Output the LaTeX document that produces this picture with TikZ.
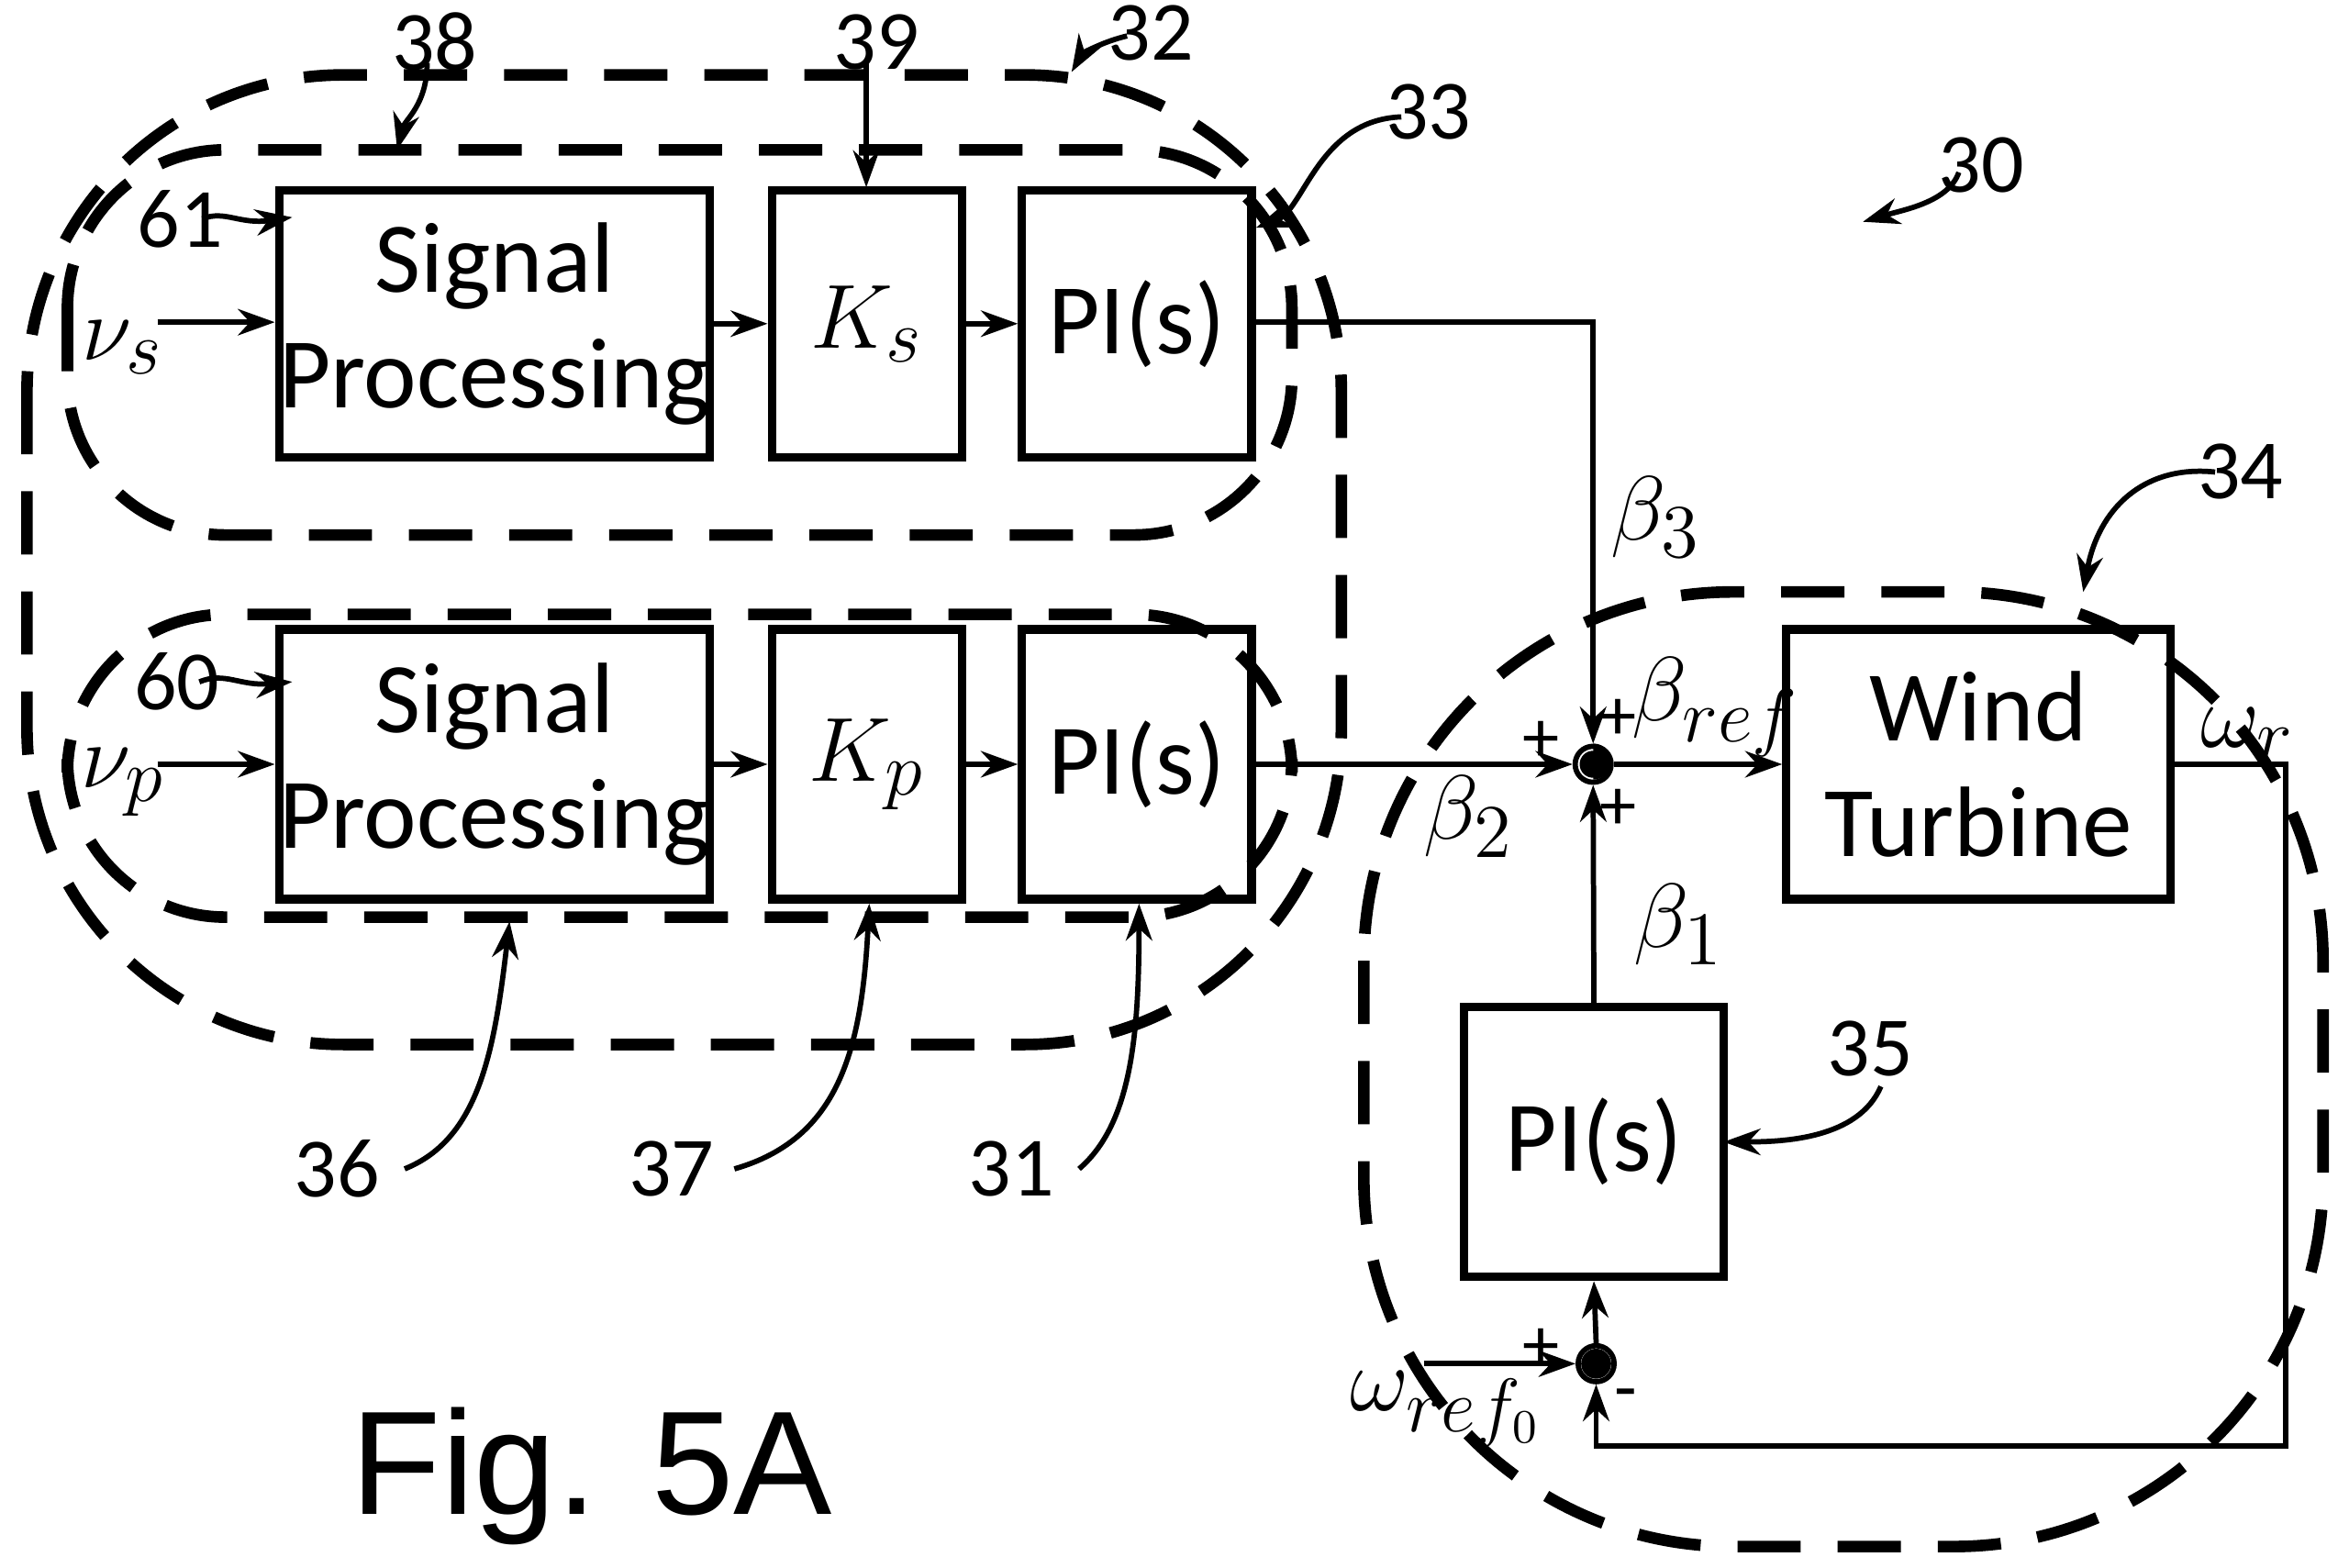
\documentclass[tikz,border=0pt]{standalone}
\usepackage{fontspec}
\setmainfont{Carlito}
\usetikzlibrary{arrows.meta}
\begin{document}
\begin{tikzpicture}[x=0.01cm,y=-0.01cm,
 blk/.style={draw,line width=1.6pt,minimum width=0,inner sep=0},
 dsh/.style={draw,line width=2.2pt,dash pattern=on 12pt off 7pt},
 ln/.style={line width=1pt},
 ar/.style={ln,-{Stealth[length=7pt,width=5pt]}},
 lab/.style={font=\fontsize{14}{14}\selectfont},
 txt/.style={font=\fontsize{19}{22}\selectfont,align=center}]
\useasboundingbox (0,0) rectangle (1560,1046);
% dashed groups
\draw[dsh,rounded corners=60] (18,50) rectangle (895,697);
\draw[dsh,rounded corners=30] (45,100) rectangle (862,357);
\draw[dsh,rounded corners=30] (45,410) rectangle (862,612);
\draw[dsh,rounded corners=70] (910,395) rectangle (1550,1032);
% blocks
\node[blk,minimum width=2.7cm,minimum height=1.78cm,txt] (sp1) at (330,216) {Signal\\Processing};
\node[blk,minimum width=1.27cm,minimum height=1.78cm,txt] (ks) at (578.5,216) {$K_s$};
\node[blk,minimum width=1.53cm,minimum height=1.78cm,txt] (pi1) at (758.5,216) {PI(s)};
\node[blk,minimum width=2.7cm,minimum height=1.8cm,txt] (sp2) at (330,510) {Signal\\Processing};
\node[blk,minimum width=1.27cm,minimum height=1.8cm,txt] (kp) at (578.5,510) {$K_p$};
\node[blk,minimum width=1.53cm,minimum height=1.8cm,txt] (pi2) at (758.5,510) {PI(s)};
\node[blk,minimum width=2.56cm,minimum height=1.8cm,txt] (wt) at (1320,510) {Wind\\Turbine};
\node[blk,minimum width=1.73cm,minimum height=1.8cm,txt] (pi3) at (1063.5,762) {PI(s)};
% sums
\node[draw,circle,line width=1pt,minimum size=0.24cm,inner sep=0] (s1) at (1063,510) {};
\fill (s1.north) arc (90:-90:0.12cm) -- cycle;
\fill (1063,510) circle (0.09cm);
\node[draw,circle,line width=1pt,minimum size=0.24cm,inner sep=0] (s2) at (1065,910) {};
\fill (1065,910) circle (0.1cm);
% inputs
\coordinate (vs) at (105,215); \coordinate (vp) at (105,510);
\node[txt] at (82,232) {$\nu_s$};
\node[txt] at (82,522) {$\nu_p$};
\draw[ar] (vs) -- (sp1.west|-vs);
\draw[ar] (vp) -- (sp2.west|-vp);
\draw[ar] (sp1) -- (ks); \draw[ar] (ks) -- (pi1);
\draw[ar] (sp2) -- (kp); \draw[ar] (kp) -- (pi2);
\draw[ar] (pi1.east|-0,215) -| (s1.north);
\draw[ar] (pi2.east|-0,510) -- (s1.west);
\draw[ar] (pi3.north) -- (s1.south);
\draw[ar] (s1.east) -- (wt.west);
\coordinate (c1) at (1525,510); \coordinate (c2) at (1525,965);
\draw[ar] (wt.east|-0,510) -- (c1) -- (c2) -| (s2.south);
\draw[ar] (s2.north) -- (pi3.south);
\coordinate (wr0) at (950,910);
\draw[ar] (wr0) -- (s2.west);
% signal labels
\node[txt] at (1105,345) {$\beta_3$};
\node[txt] at (1145,472) {$\beta_{ref}$};
\node[txt] at (980,545) {$\beta_2$};
\node[txt] at (1120,617) {$\beta_1$};
\node[txt] at (1500,490) {$\omega_r$};
\node[txt] at (965,940) {$\omega_{ref_0}$};
\node[lab] at (1080,480) {+}; \node[lab] at (1028,495) {+};
\node[lab] at (1080,540) {+}; \node[lab] at (1028,900) {+};
\node[lab] at (1085,935) {-};
% reference numerals
\node[lab,font=\fontsize{16}{16}\selectfont] (n38) at (290,28) {38};
\draw[ar] (285,42) .. controls (285,70) and (270,80) .. (265,100);
\node[lab,font=\fontsize{16}{16}\selectfont] (n39) at (585,28) {39};
\draw[ar] (578,42) -- (578,125);
\node[lab,font=\fontsize{16}{16}\selectfont] (n32) at (768,22) {32};
\draw[ar] (752,24) .. controls (735,28) and (722,36) .. (715,48);
\node[lab,font=\fontsize{16}{16}\selectfont] (n33) at (953,75) {33};
\draw[ar] (935,78) .. controls (880,80) and (870,140) .. (838,152);
\node[lab,font=\fontsize{16}{16}\selectfont] (n30) at (1322,110) {30};
\draw[ar] (1307,115) .. controls (1300,135) and (1270,140) .. (1243,148);
\node[lab,font=\fontsize{16}{16}\selectfont] (n34) at (1495,315) {34};
\draw[ar] (1478,315) .. controls (1430,310) and (1400,340) .. (1390,395);
\node[lab,font=\fontsize{16}{16}\selectfont] (n61) at (120,146) {61};
\draw[ar] (135,146) .. controls (150,140) and (160,150) .. (195,145);
\node[lab,font=\fontsize{16}{16}\selectfont] (n60) at (118,455) {60};
\draw[ar] (133,455) .. controls (150,448) and (160,458) .. (195,455);
\node[lab,font=\fontsize{16}{16}\selectfont] (n36) at (225,780) {36};
\draw[ar] (270,780) .. controls (320,760) and (330,700) .. (340,615);
\node[lab,font=\fontsize{16}{16}\selectfont] (n37) at (448,780) {37};
\draw[ar] (490,780) .. controls (560,760) and (575,700) .. (580,603);
\node[lab,font=\fontsize{16}{16}\selectfont] (n31) at (675,780) {31};
\draw[ar] (720,780) .. controls (755,750) and (760,690) .. (760,603);
\node[lab,font=\fontsize{16}{16}\selectfont] (n35) at (1248,700) {35};
\draw[ar] (1255,725) .. controls (1240,760) and (1190,762) .. (1150,762);
\node[font=\fontsize{28}{28}\selectfont\fontspec{Liberation Sans}] at (395,985) {Fig. 5A};
\end{tikzpicture}
\end{document}
